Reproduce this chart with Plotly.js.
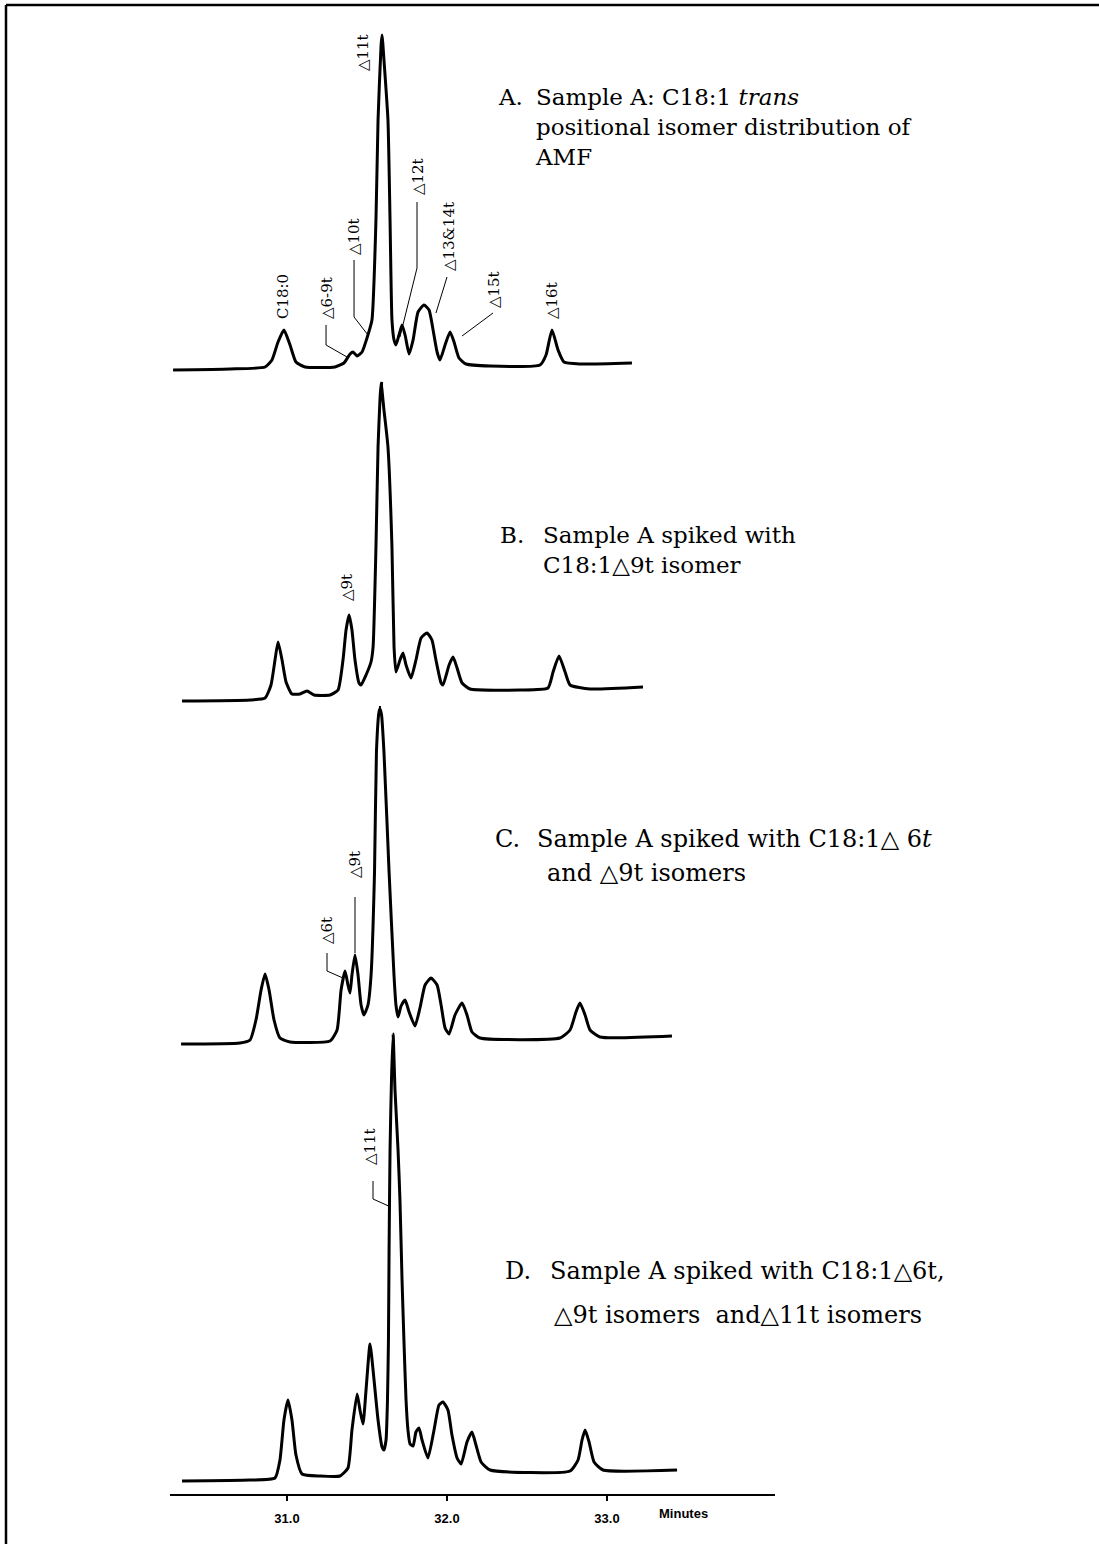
<!DOCTYPE html>
<html>
<head>
<meta charset="utf-8">
<script src="https://cdn.plot.ly/plotly-3.0.1.min.js"></script>
<style>html,body{margin:0;padding:0;background:#fff;}</style>
</head>
<body>
<div id="chart" style="width:1099px;height:1544px;"></div>
<script>
// Retention time (minutes) and detector response for the four GC runs.
// A: Sample A (AMF), C18:1 trans positional isomers
const timeA = [30.288,30.644,30.863,30.906,30.944,30.981,31.019,31.056,31.113,31.300,31.356,31.394,31.413,31.438,31.469,31.500,31.531,31.556,31.569,31.588,31.594,31.606,31.631,31.644,31.656,31.669,31.681,31.700,31.719,31.738,31.763,31.788,31.819,31.856,31.888,31.913,31.938,31.956,31.988,32.019,32.044,32.075,32.119,32.269,32.581,32.619,32.656,32.694,32.731,32.831,33.156];
const respA = [-1,0,2,9,27,39,24,7,2,2,6,15,17,13,17,31,49,149,249,324,334,309,249,149,49,29,24,34,44,34,15,29,57,64,59,39,17,9,24,37,27,11,5,3,4,14,39,19,7,5,6];

// B: Sample A spiked with C18:1 delta-9t
const timeB = [30.344,30.769,30.863,30.900,30.925,30.944,30.969,30.994,31.031,31.081,31.125,31.169,31.269,31.319,31.350,31.369,31.388,31.406,31.425,31.450,31.463,31.494,31.525,31.538,31.556,31.569,31.581,31.588,31.606,31.631,31.656,31.669,31.681,31.706,31.725,31.744,31.775,31.806,31.838,31.875,31.906,31.931,31.963,31.975,32.013,32.038,32.063,32.094,32.144,32.456,32.631,32.663,32.700,32.738,32.769,32.894,33.225];
const respB = [-1,0,2,15,40,58,40,18,6,6,9,5,5,10,40,70,85,70,40,17,15,25,38,53,153,253,300,317,290,253,153,53,28,40,47,35,22,40,62,67,60,40,17,15,35,43,32,17,11,10,12,28,44,28,15,11,13];

// C: Sample A spiked with delta-6t and delta-9t
const timeC = [30.338,30.706,30.769,30.806,30.838,30.863,30.888,30.919,30.956,31.019,31.269,31.313,31.338,31.363,31.381,31.394,31.406,31.425,31.444,31.463,31.481,31.506,31.525,31.547,31.559,31.575,31.581,31.591,31.606,31.638,31.669,31.681,31.694,31.713,31.738,31.763,31.800,31.831,31.863,31.900,31.938,31.963,31.988,32.013,32.050,32.094,32.125,32.156,32.206,32.706,32.769,32.806,32.831,32.863,32.894,32.956,33.406];
const respC = [-1,0,3,23,53,69,53,23,5,1,2,13,53,72,58,50,68,88,68,38,28,38,67,171,291,331,334,328,291,171,67,38,26,37,43,31,17,35,58,65,58,38,15,9,28,40,28,11,5,5,13,31,40,28,13,6,7];

// D: Sample A spiked with delta-6t, delta-9t and delta-11t
const timeD = [30.344,30.769,30.925,30.956,30.981,31.006,31.031,31.056,31.094,31.206,31.331,31.381,31.406,31.438,31.456,31.475,31.494,31.519,31.544,31.569,31.594,31.606,31.619,31.628,31.634,31.638,31.644,31.653,31.663,31.675,31.694,31.706,31.719,31.731,31.744,31.756,31.769,31.788,31.806,31.825,31.844,31.881,31.919,31.950,31.975,32.006,32.031,32.063,32.088,32.125,32.156,32.181,32.213,32.269,32.769,32.819,32.844,32.863,32.888,32.919,32.975,33.438];
const respD = [-1,0,2,20,60,80,60,25,6,4,4,12,50,86,70,56,90,136,100,60,33,30,40,80,139,230,330,400,446,390,330,280,200,139,80,50,36,34,48,52,40,22,50,75,78,70,45,22,16,38,48,35,18,10,9,20,40,50,38,18,10,10];

const tickVals = [31, 32, 33];
const tickText = ['31.0', '32.0', '33.0'];

const INK = '#000000';
const SERIF = '"DejaVu Serif", "Liberation Serif", serif';
const SANS = '"Liberation Sans", Arial, sans-serif';

function run(name, t, r, yax) {
  return {
    type: 'scatter', mode: 'lines', name: name,
    x: t, y: r, xaxis: 'x', yaxis: yax,
    line: {color: INK, width: 3, shape: 'spline', smoothing: 0.5},
    hoverinfo: 'skip'
  };
}

const data = [
  run('Sample A', timeA, respA, 'y'),
  run('Sample A + \u25B39t', timeB, respB, 'y2'),
  run('Sample A + \u25B36t, \u25B39t', timeC, respC, 'y3'),
  run('Sample A + \u25B36t, \u25B39t, \u25B311t', timeD, respD, 'y4')
];

function hidden(domain, range) {
  return {domain: domain, range: range, visible: false, fixedrange: true, anchor: 'x'};
}

// rotated peak labels
function peak(text, x, y, yref) {
  return {text: text, x: x, y: y, xref: 'x', yref: yref, textangle: -90,
    showarrow: false, xanchor: 'center', yanchor: 'middle',
    font: {family: SERIF, size: 15, color: INK}};
}
// panel captions on the right
function cap(text, px, py, size) {
  return {text: text, x: px / 1099, y: 1 - py / 1544, xref: 'paper', yref: 'paper',
    showarrow: false, xanchor: 'left', yanchor: 'middle', align: 'left',
    font: {family: SERIF, size: size || 24, color: INK}};
}
function lead(path, yref) {
  return {type: 'path', xref: 'x', yref: yref, path: path,
    line: {color: INK, width: 1}};
}
function mark(x, y0, y1, yref) {
  return {type: 'line', xref: 'x', yref: yref, x0: x, x1: x, y0: y0, y1: y1,
    line: {color: INK, width: 2}};
}

const D = '\u25B3';

const layout = {
  width: 1099, height: 1544,
  margin: {l: 0, r: 0, t: 0, b: 0},
  paper_bgcolor: '#ffffff', plot_bgcolor: 'rgba(0,0,0,0)',
  showlegend: false, hovermode: false,
  xaxis: {
    domain: [170 / 1099, 775 / 1099], range: [30.26875, 34.05],
    anchor: 'free', position: 1 - 1495 / 1544,
    showline: true, linecolor: INK, linewidth: 2,
    ticks: 'outside', ticklen: 5, tickwidth: 2, tickcolor: INK,
    tickvals: tickVals, ticktext: tickText.map(s => '<b>' + s + '</b>'),
    tickfont: {family: SANS, size: 13, color: INK},
    ticklabelstandoff: 6,
    showgrid: false, zeroline: false, fixedrange: true
  },
  yaxis:  hidden([1 - 395 / 1544, 1 - 15 / 1544], [-26, 354]),
  yaxis2: hidden([1 - 715 / 1544, 1 - 375 / 1544], [-15, 325]),
  yaxis3: hidden([1 - 1055 / 1544, 1 - 700 / 1544], [-12, 343]),
  yaxis4: hidden([1 - 1490 / 1544, 1 - 1020 / 1544], [-10, 460]),
  annotations: [
    // A
    peak('C18:0', 30.975, 72, 'y'),
    peak(D + '6-9t', 31.25, 71, 'y'),
    peak(D + '10t', 31.419, 132, 'y'),
    peak(D + '11t', 31.475, 316, 'y'),
    peak(D + '12t', 31.819, 192, 'y'),
    peak(D + '13&14t', 32.013, 132, 'y'),
    peak(D + '15t', 32.294, 79, 'y'),
    peak(D + '16t', 32.656, 69, 'y'),
    // B
    peak(D + '9t', 31.375, 112, 'y2'),
    // C
    peak(D + '9t', 31.425, 178, 'y3'),
    peak(D + '6t', 31.25, 112, 'y3'),
    // D
    peak(D + '11t', 31.519, 333, 'y4'),

    cap('A.', 496, 97, 23),
    cap('Sample A: C18:1 <i>trans</i><br>positional isomer distribution of<br>AMF', 533, 127, 23),

    cap('B.', 498, 535, 23),
    cap('Sample A spiked with<br>C18:1' + D + '9t isomer', 541, 550, 23),

    cap('C.', 493, 839), cap('Sample A spiked with C18:1' + D + ' 6<i>t</i>', 535, 839),
    cap('and ' + D + '9t isomers', 545, 873),

    cap('D.', 503, 1271), cap('Sample A spiked with C18:1' + D + '6t,', 548, 1271),
    cap(D + '9t isomers\u00A0\u00A0and' + D + '11t isomers', 552, 1315),

    {text: '<b>Minutes</b>', x: 33.475, y: 1 - 1513 / 1544, xref: 'x', yref: 'paper',
     showarrow: false, xanchor: 'center', yanchor: 'middle',
     font: {family: SANS, size: 13, color: INK}}
  ],
  shapes: [
    // frame
    {type: 'line', xref: 'paper', yref: 'paper', x0: 6 / 1099, x1: 6 / 1099, y0: 1 - 5 / 1544, y1: 0,
     line: {color: INK, width: 2.5}},
    {type: 'line', xref: 'paper', yref: 'paper', x0: 6 / 1099, x1: 1, y0: 1 - 5 / 1544, y1: 1 - 5 / 1544,
     line: {color: INK, width: 2.5}},
    // leader lines
    lead('M 31.244,44 L 31.244,24 L 31.375,12', 'y'),
    lead('M 31.419,109 L 31.419,52 L 31.506,34', 'y'),
    lead('M 31.8125,167 L 31.8125,101 L 31.706,32', 'y'),
    lead('M 32.0,92 L 31.931,56', 'y'),
    lead('M 32.2875,56 L 32.094,33', 'y'),
    lead('M 31.425,146 L 31.425,90', 'y3'),
    lead('M 31.25,90 L 31.25,72 L 31.35,65', 'y3'),
    lead('M 31.5375,299 L 31.5375,281 L 31.635,274', 'y4'),
    // injection-time marks under the traces
    mark(31.594, -13, -21, 'y'),
    mark(31.581, -6, -13, 'y2'),
    mark(31.663, -3, -9, 'y3')
  ]
};

Plotly.newPlot('chart', data, layout, {staticPlot: true, displayModeBar: false});
</script>
</body>
</html>
